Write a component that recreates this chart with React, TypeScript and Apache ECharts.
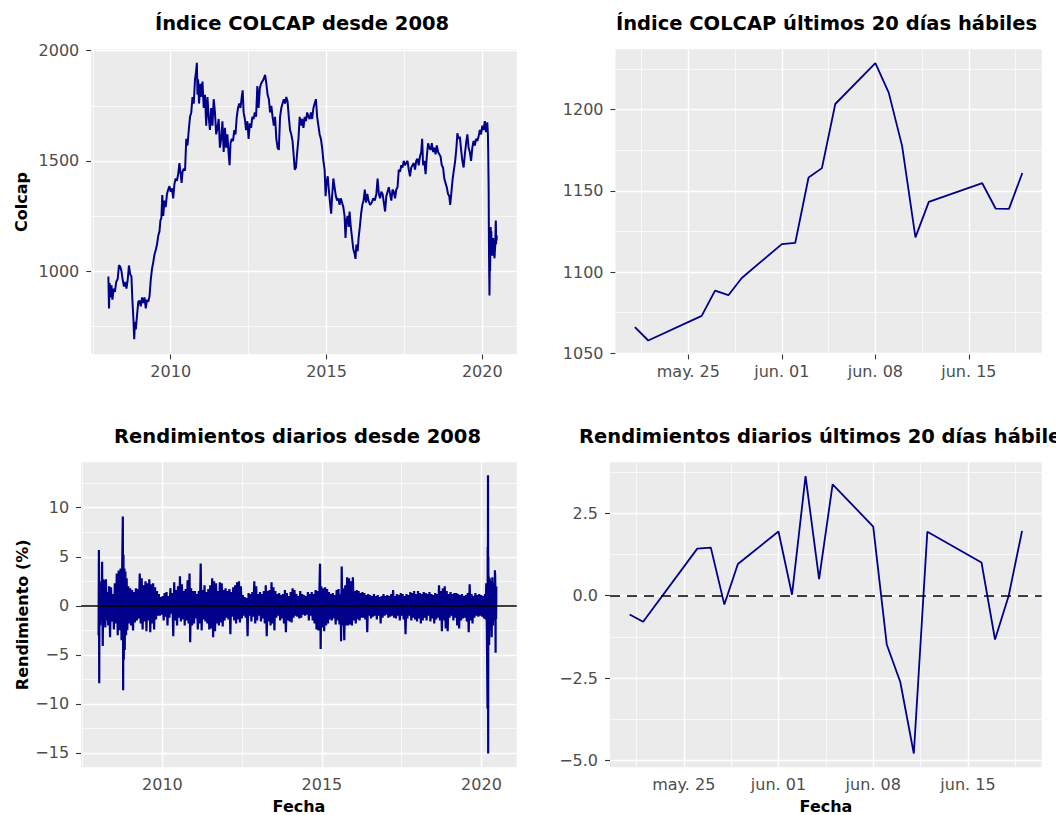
import React, { useEffect, useRef } from "react";
import * as echarts from "echarts";

const FONT = "'DejaVu Sans', sans-serif";
const LINE_COLOR = "#00008B";

// COLCAP index since 2008 (decimal year, value)
const indexHistory: [number, number][] = [
  [2008.0, 975], [2008.02, 830], [2008.04, 945], [2008.07, 880], [2008.1, 935], [2008.13, 870], [2008.17, 920],
  [2008.21, 905], [2008.25, 950], [2008.3, 965], [2008.34, 1026], [2008.38, 1020], [2008.42, 1000], [2008.46, 960],
  [2008.5, 930], [2008.54, 950], [2008.58, 920], [2008.62, 960], [2008.66, 1025], [2008.7, 985], [2008.74, 975],
  [2008.77, 870], [2008.8, 790], [2008.83, 690], [2008.85, 770], [2008.88, 735], [2008.92, 800], [2008.96, 860],
  [2009.0, 865], [2009.04, 840], [2009.08, 880], [2009.12, 855], [2009.16, 880], [2009.2, 830], [2009.24, 870],
  [2009.28, 860], [2009.32, 885], [2009.36, 960], [2009.4, 1010], [2009.44, 1040], [2009.48, 1075], [2009.52, 1095],
  [2009.56, 1120], [2009.6, 1160], [2009.64, 1180], [2009.67, 1230], [2009.7, 1240], [2009.73, 1345], [2009.76, 1250],
  [2009.8, 1320], [2009.84, 1290], [2009.88, 1350], [2009.92, 1370], [2009.96, 1385], [2010.0, 1360], [2010.04, 1375],
  [2010.08, 1330], [2010.12, 1395], [2010.16, 1420], [2010.2, 1410], [2010.24, 1440], [2010.28, 1490], [2010.32, 1440],
  [2010.35, 1400], [2010.38, 1450], [2010.42, 1465], [2010.46, 1455], [2010.5, 1600], [2010.54, 1570], [2010.58, 1640],
  [2010.62, 1700], [2010.66, 1720], [2010.7, 1790], [2010.74, 1760], [2010.78, 1870], [2010.81, 1900], [2010.84, 1945],
  [2010.86, 1800], [2010.88, 1870], [2010.91, 1760], [2010.95, 1850], [2010.98, 1790], [2011.02, 1860], [2011.06, 1740],
  [2011.1, 1800], [2011.14, 1660], [2011.18, 1790], [2011.22, 1700], [2011.26, 1640], [2011.3, 1740], [2011.34, 1660],
  [2011.38, 1780], [2011.42, 1720], [2011.46, 1620], [2011.5, 1650], [2011.54, 1690], [2011.58, 1560], [2011.62, 1600],
  [2011.66, 1680], [2011.7, 1540], [2011.74, 1650], [2011.78, 1560], [2011.82, 1620], [2011.86, 1530], [2011.89, 1480],
  [2011.92, 1580], [2011.96, 1600], [2012.0, 1590], [2012.04, 1640], [2012.08, 1620], [2012.12, 1700], [2012.16, 1740],
  [2012.2, 1760], [2012.24, 1740], [2012.28, 1790], [2012.31, 1820], [2012.34, 1720], [2012.38, 1690], [2012.42, 1640],
  [2012.46, 1680], [2012.5, 1600], [2012.54, 1670], [2012.58, 1650], [2012.62, 1700], [2012.66, 1690], [2012.7, 1720],
  [2012.74, 1700], [2012.78, 1840], [2012.82, 1740], [2012.86, 1830], [2012.9, 1850], [2012.94, 1860], [2012.98, 1870],
  [2013.03, 1890], [2013.07, 1850], [2013.11, 1800], [2013.15, 1780], [2013.19, 1720], [2013.23, 1750], [2013.27, 1700],
  [2013.31, 1660], [2013.35, 1700], [2013.39, 1600], [2013.43, 1560], [2013.47, 1550], [2013.51, 1700], [2013.55, 1740],
  [2013.59, 1760], [2013.63, 1780], [2013.67, 1760], [2013.71, 1790], [2013.75, 1770], [2013.79, 1700], [2013.83, 1640],
  [2013.87, 1620], [2013.91, 1590], [2013.95, 1520], [2013.98, 1460], [2014.02, 1470], [2014.06, 1540], [2014.1, 1600],
  [2014.14, 1700], [2014.18, 1660], [2014.22, 1690], [2014.26, 1650], [2014.3, 1700], [2014.34, 1680], [2014.38, 1720],
  [2014.42, 1700], [2014.46, 1690], [2014.5, 1720], [2014.54, 1690], [2014.58, 1740], [2014.62, 1760], [2014.66, 1780],
  [2014.7, 1700], [2014.74, 1660], [2014.78, 1620], [2014.82, 1600], [2014.86, 1560], [2014.9, 1500], [2014.94, 1460],
  [2014.97, 1340], [2015.0, 1400], [2015.04, 1430], [2015.08, 1360], [2015.12, 1300], [2015.15, 1260], [2015.18, 1340],
  [2015.22, 1420], [2015.26, 1380], [2015.3, 1340], [2015.34, 1320], [2015.38, 1330], [2015.42, 1300], [2015.46, 1330],
  [2015.5, 1310], [2015.54, 1290], [2015.58, 1250], [2015.61, 1150], [2015.64, 1230], [2015.68, 1250], [2015.71, 1200],
  [2015.74, 1270], [2015.78, 1200], [2015.82, 1150], [2015.86, 1100], [2015.9, 1080], [2015.93, 1055], [2015.96, 1120],
  [2016.0, 1090], [2016.03, 1150], [2016.07, 1200], [2016.11, 1260], [2016.15, 1300], [2016.19, 1320], [2016.23, 1370],
  [2016.27, 1310], [2016.31, 1350], [2016.35, 1320], [2016.4, 1300], [2016.45, 1310], [2016.5, 1330], [2016.55, 1320],
  [2016.6, 1350], [2016.64, 1420], [2016.68, 1350], [2016.72, 1330], [2016.76, 1360], [2016.8, 1350], [2016.84, 1310],
  [2016.88, 1270], [2016.92, 1340], [2016.96, 1360], [2017.0, 1380], [2017.04, 1350], [2017.08, 1320], [2017.12, 1370],
  [2017.16, 1360], [2017.2, 1330], [2017.24, 1370], [2017.28, 1380], [2017.32, 1460], [2017.36, 1450], [2017.4, 1480],
  [2017.44, 1470], [2017.48, 1500], [2017.52, 1480], [2017.56, 1490], [2017.6, 1500], [2017.64, 1460], [2017.68, 1430],
  [2017.72, 1470], [2017.76, 1480], [2017.8, 1490], [2017.84, 1460], [2017.88, 1500], [2017.92, 1510], [2017.96, 1480],
  [2018.0, 1520], [2018.04, 1540], [2018.07, 1600], [2018.1, 1480], [2018.14, 1500], [2018.18, 1440], [2018.22, 1520],
  [2018.26, 1580], [2018.3, 1560], [2018.34, 1550], [2018.38, 1580], [2018.42, 1540], [2018.46, 1560], [2018.5, 1530],
  [2018.54, 1570], [2018.58, 1540], [2018.62, 1530], [2018.66, 1520], [2018.7, 1480], [2018.74, 1470], [2018.78, 1420],
  [2018.82, 1400], [2018.86, 1380], [2018.9, 1350], [2018.94, 1340], [2018.97, 1300], [2019.01, 1360], [2019.05, 1420],
  [2019.09, 1460], [2019.13, 1500], [2019.17, 1560], [2019.2, 1625], [2019.24, 1600], [2019.28, 1610], [2019.32, 1550],
  [2019.36, 1500], [2019.4, 1470], [2019.44, 1530], [2019.48, 1580], [2019.52, 1620], [2019.56, 1560], [2019.6, 1540],
  [2019.64, 1500], [2019.68, 1560], [2019.72, 1590], [2019.76, 1570], [2019.8, 1600], [2019.84, 1590], [2019.88, 1610],
  [2019.92, 1640], [2019.96, 1620], [2020.0, 1660], [2020.04, 1640], [2020.08, 1680], [2020.12, 1630], [2020.16, 1675],
  [2020.18, 1620], [2020.19, 1540], [2020.2, 1420], [2020.205, 1350], [2020.21, 1200], [2020.215, 1090], [2020.22, 1010],
  [2020.225, 950], [2020.23, 889], [2020.235, 960], [2020.24, 1050], [2020.25, 1000], [2020.26, 1110], [2020.27, 1200],
  [2020.28, 1130], [2020.29, 1180], [2020.3, 1100], [2020.31, 1140], [2020.32, 1070], [2020.33, 1120], [2020.34, 1090],
  [2020.35, 1150], [2020.36, 1100], [2020.37, 1080], [2020.38, 1075],
];

// Daily returns since 2008 (decimal year, %)
const returnsHistory: [number, number][] = [
  [2008.0, -3.0], [2008.01, 5.7], [2008.02, -7.9], [2008.03, 2.5], [2008.05, -2.0], [2008.07, 1.8], [2008.09, -1.5],
  [2008.11, 4.5], [2008.13, -4.1], [2008.15, 2.7], [2008.17, -1.8], [2008.19, 2.6], [2008.21, -2.2], [2008.23, 2.7],
  [2008.25, -1.5], [2008.28, 1.4], [2008.3, -2.0], [2008.33, 2.0], [2008.36, -3.2], [2008.39, 1.9], [2008.42, -1.6],
  [2008.45, 1.2], [2008.48, -2.4], [2008.51, 2.3], [2008.54, -1.8], [2008.57, 3.3], [2008.6, -3.0], [2008.63, 3.6],
  [2008.66, -2.5], [2008.69, 3.8], [2008.72, -3.5], [2008.74, 4.0], [2008.76, 9.1], [2008.77, -8.6], [2008.78, 5.2],
  [2008.79, -5.5], [2008.81, 3.8], [2008.82, -4.5], [2008.84, 3.5], [2008.86, -3.0], [2008.88, 2.8], [2008.9, -2.5],
  [2008.93, 2.0], [2008.96, -1.8], [2008.99, 1.8], [2009.02, -2.0], [2009.05, 1.6], [2009.08, -2.5], [2009.11, 1.4],
  [2009.14, -1.7], [2009.17, 1.8], [2009.2, -1.5], [2009.23, 1.7], [2009.26, -1.3], [2009.29, 3.3], [2009.32, -1.8],
  [2009.35, 2.8], [2009.38, -2.4], [2009.41, 2.1], [2009.44, -1.6], [2009.47, 2.5], [2009.5, -2.6], [2009.53, 2.3],
  [2009.56, -1.5], [2009.59, 2.7], [2009.62, -2.7], [2009.65, 2.2], [2009.68, -1.8], [2009.71, 2.3], [2009.74, -2.4],
  [2009.77, 1.9], [2009.8, -1.4], [2009.83, 1.5], [2009.86, -1.0], [2009.89, 1.2], [2009.92, -1.0], [2009.95, 0.9],
  [2009.98, -0.9], [2010.01, 1.0], [2010.04, -1.5], [2010.07, 1.3], [2010.1, -1.1], [2010.13, 1.4], [2010.16, -2.0],
  [2010.19, 1.0], [2010.22, -1.2], [2010.25, 1.8], [2010.28, -0.8], [2010.31, 1.3], [2010.34, -3.1], [2010.37, 2.4],
  [2010.4, -1.5], [2010.43, 1.6], [2010.46, -2.0], [2010.49, 2.0], [2010.52, -1.2], [2010.55, 3.0], [2010.58, -1.6],
  [2010.61, 2.2], [2010.64, -1.4], [2010.67, 1.5], [2010.7, -2.0], [2010.73, 1.7], [2010.76, -1.5], [2010.79, 2.6],
  [2010.82, -1.8], [2010.85, 3.3], [2010.87, -3.7], [2010.9, 1.8], [2010.93, -2.0], [2010.96, 1.5], [2010.99, -1.8],
  [2011.02, 1.5], [2011.05, -1.3], [2011.08, 1.2], [2011.11, -2.4], [2011.14, 1.5], [2011.17, -1.8], [2011.2, 4.3],
  [2011.23, -2.5], [2011.26, 1.6], [2011.29, -1.4], [2011.32, 2.1], [2011.35, -1.6], [2011.38, 1.4], [2011.41, -1.8],
  [2011.44, 1.7], [2011.47, -2.4], [2011.5, 2.1], [2011.53, -2.3], [2011.56, 2.8], [2011.59, -3.2], [2011.62, 2.5],
  [2011.65, -2.6], [2011.68, 2.3], [2011.71, -1.8], [2011.74, 1.5], [2011.77, -2.0], [2011.8, 2.4], [2011.83, -1.7],
  [2011.86, 2.3], [2011.89, -2.1], [2011.92, 1.6], [2011.95, -1.5], [2011.98, 1.8], [2012.01, -1.2], [2012.04, 1.5],
  [2012.07, -1.4], [2012.1, 1.7], [2012.13, -2.9], [2012.16, 1.4], [2012.19, -1.1], [2012.22, 1.9], [2012.25, -1.5],
  [2012.28, 2.1], [2012.31, -1.8], [2012.34, 2.4], [2012.37, -1.4], [2012.4, 2.5], [2012.43, -1.7], [2012.46, 2.0],
  [2012.49, -1.3], [2012.52, 1.1], [2012.55, -1.0], [2012.58, 0.9], [2012.61, -1.2], [2012.64, 0.8], [2012.67, -3.1],
  [2012.7, 1.3], [2012.73, -1.0], [2012.76, 1.2], [2012.79, -1.6], [2012.82, 1.4], [2012.85, -1.1], [2012.88, 2.5],
  [2012.91, -1.8], [2012.94, 2.0], [2012.97, -1.5], [2013.0, 1.2], [2013.03, -1.0], [2013.06, 1.4], [2013.09, -1.6],
  [2013.12, 1.2], [2013.15, -1.3], [2013.18, 1.5], [2013.21, -1.8], [2013.24, 2.1], [2013.27, -3.1], [2013.3, 1.5],
  [2013.33, -1.6], [2013.36, 1.6], [2013.39, -2.0], [2013.42, 2.4], [2013.45, -1.8], [2013.48, 1.9], [2013.51, -2.5],
  [2013.54, 1.5], [2013.57, -1.2], [2013.6, 1.2], [2013.63, -1.0], [2013.66, 1.3], [2013.69, -1.5], [2013.72, 1.1],
  [2013.75, -1.3], [2013.78, 1.2], [2013.81, -1.8], [2013.84, 1.6], [2013.87, -2.7], [2013.9, 1.3], [2013.93, -1.5],
  [2013.96, 1.0], [2013.99, -1.6], [2014.02, 1.4], [2014.05, -1.7], [2014.08, 1.8], [2014.11, -1.2], [2014.14, 1.6],
  [2014.17, -1.0], [2014.2, 1.2], [2014.23, -1.1], [2014.26, 1.0], [2014.29, -1.3], [2014.32, 1.5], [2014.35, -1.2],
  [2014.38, 1.2], [2014.41, -0.9], [2014.44, 1.1], [2014.47, -1.0], [2014.5, 1.0], [2014.53, -0.9], [2014.56, 1.4],
  [2014.59, -1.5], [2014.62, 1.2], [2014.65, -1.0], [2014.68, 1.4], [2014.71, -1.5], [2014.74, 1.2], [2014.77, -1.8],
  [2014.8, 1.6], [2014.83, -2.4], [2014.86, 1.5], [2014.89, -2.5], [2014.92, 1.4], [2014.94, 4.3], [2014.96, -4.4],
  [2014.98, 2.0], [2015.01, -2.2], [2015.04, 1.8], [2015.07, -2.6], [2015.1, 1.9], [2015.13, -2.0], [2015.16, 1.7],
  [2015.19, -1.8], [2015.22, 1.4], [2015.25, -1.4], [2015.28, 1.2], [2015.31, -1.5], [2015.34, 1.3], [2015.37, -1.3],
  [2015.4, 1.1], [2015.43, -1.9], [2015.46, 1.6], [2015.49, -1.5], [2015.52, 1.7], [2015.55, -1.9], [2015.58, 1.2],
  [2015.6, -3.6], [2015.62, 4.0], [2015.64, -2.0], [2015.67, 1.8], [2015.7, -3.5], [2015.73, 2.1], [2015.76, -2.0],
  [2015.79, 2.9], [2015.82, -2.0], [2015.85, 2.8], [2015.88, -1.9], [2015.91, 2.5], [2015.94, -2.0], [2015.97, 2.9],
  [2016.0, -1.5], [2016.03, 1.5], [2016.06, -1.8], [2016.09, 1.6], [2016.12, -1.4], [2016.15, 1.5], [2016.18, -1.5],
  [2016.21, 1.3], [2016.24, -1.2], [2016.27, 1.4], [2016.3, -1.2], [2016.33, 1.3], [2016.36, -1.4], [2016.39, 1.1],
  [2016.42, -2.7], [2016.45, 1.2], [2016.48, -1.0], [2016.51, 1.1], [2016.54, -1.3], [2016.57, 1.0], [2016.6, -1.1],
  [2016.63, 1.2], [2016.66, -1.0], [2016.69, 1.0], [2016.72, -1.4], [2016.75, 1.1], [2016.78, -1.0], [2016.81, 0.9],
  [2016.84, -1.8], [2016.87, 1.0], [2016.9, -1.2], [2016.93, 1.2], [2016.96, -1.0], [2016.99, 1.0], [2017.02, -0.9],
  [2017.05, 1.1], [2017.08, -1.2], [2017.11, 1.0], [2017.14, -1.1], [2017.17, 1.2], [2017.2, -1.0], [2017.23, 1.6],
  [2017.26, -1.2], [2017.29, 1.0], [2017.32, -1.3], [2017.35, 1.2], [2017.38, -1.0], [2017.41, 1.1], [2017.44, -1.5],
  [2017.47, 1.3], [2017.5, -1.0], [2017.53, 1.2], [2017.56, -1.4], [2017.59, 1.0], [2017.62, -2.9], [2017.65, 1.2],
  [2017.68, -1.3], [2017.71, 1.1], [2017.74, -1.0], [2017.77, 1.4], [2017.8, -1.5], [2017.83, 1.3], [2017.86, -1.2],
  [2017.89, 1.5], [2017.92, -1.4], [2017.95, 1.2], [2017.98, -1.6], [2018.01, 1.5], [2018.04, -1.3], [2018.07, 1.3],
  [2018.1, -1.8], [2018.13, 1.2], [2018.16, -1.5], [2018.19, 1.4], [2018.22, -1.2], [2018.25, 1.3], [2018.28, -1.5],
  [2018.31, 1.2], [2018.34, -1.0], [2018.37, 1.4], [2018.4, -1.6], [2018.43, 1.2], [2018.46, -1.3], [2018.49, 1.1],
  [2018.52, -1.8], [2018.55, 1.3], [2018.58, -1.4], [2018.61, 1.2], [2018.64, -1.2], [2018.67, 2.1], [2018.7, -1.5],
  [2018.73, 1.5], [2018.76, -2.6], [2018.79, 1.8], [2018.82, -1.5], [2018.85, 2.0], [2018.88, -2.3], [2018.91, 1.5],
  [2018.94, -2.6], [2018.97, 1.2], [2019.0, -1.2], [2019.03, 1.4], [2019.06, -1.0], [2019.09, 1.2], [2019.12, -1.5],
  [2019.15, 1.3], [2019.18, -1.2], [2019.21, 1.3], [2019.24, -2.0], [2019.27, 1.2], [2019.3, -2.3], [2019.33, 1.1],
  [2019.36, -1.5], [2019.39, 1.2], [2019.42, -1.3], [2019.45, 1.0], [2019.48, -1.2], [2019.51, 1.1], [2019.54, -1.6],
  [2019.57, 1.3], [2019.6, -2.7], [2019.63, 2.2], [2019.66, -1.5], [2019.69, 1.2], [2019.72, -1.8], [2019.75, 1.0],
  [2019.78, -1.2], [2019.81, 1.3], [2019.84, -1.0], [2019.87, 1.1], [2019.9, -1.1], [2019.93, 1.2], [2019.96, -1.0],
  [2019.99, 1.1], [2020.02, -1.1], [2020.05, 1.0], [2020.08, -1.3], [2020.11, 1.2], [2020.13, -1.4], [2020.15, 2.3],
  [2020.17, -2.5], [2020.19, -10.5], [2020.195, 6.0], [2020.2, -5.5], [2020.205, 13.3], [2020.21, -15.05],
  [2020.215, 5.0], [2020.22, -4.0], [2020.23, 3.0], [2020.24, -4.0], [2020.26, 2.8], [2020.28, -2.5], [2020.3, 2.5],
  [2020.32, -3.2], [2020.34, 2.9], [2020.36, -2.0], [2020.37, 2.4], [2020.38, -1.5],
];

// Last 20 business days
const last20Dates = [
  "2020-05-21", "2020-05-22", "2020-05-26", "2020-05-27", "2020-05-28", "2020-05-29", "2020-06-01",
  "2020-06-02", "2020-06-03", "2020-06-04", "2020-06-05", "2020-06-08", "2020-06-09", "2020-06-10",
  "2020-06-11", "2020-06-12", "2020-06-16", "2020-06-17", "2020-06-18", "2020-06-19",
];
const last20Index = [
  1066, 1057.8, 1073, 1088.5, 1085.7, 1096.3, 1117.2, 1117.9, 1158.2, 1164,
  1203.5, 1228.7, 1210.5, 1177.7, 1121.3, 1143.2, 1154.7, 1139.1, 1138.9, 1161,
];
const last20Returns = [
  -0.57, -0.79, 1.43, 1.46, -0.27, 0.96, 1.95, 0.03, 3.63, 0.5,
  3.38, 2.1, -1.48, -2.62, -4.79, 1.94, 1.01, -1.33, -0.02, 1.97,
];

// Axis ticks
const yearTicks = [2010, 2015, 2020];
const yearMinor = [2007.5, 2012.5, 2017.5];
const dayTickDates = ["2020-05-25", "2020-06-01", "2020-06-08", "2020-06-15"];
const dayTickLabels = ["may. 25", "jun. 01", "jun. 08", "jun. 15"];
const dayMinorDates = ["2020-05-21T12", "2020-05-28T12", "2020-06-04T12", "2020-06-11T12", "2020-06-18T12"];
const indexTicks = [1000, 1500, 2000];
const indexMinor = [750, 1250, 1750];
const last20IndexTicks = [1050, 1100, 1150, 1200];
const last20IndexMinor = [1075, 1125, 1175, 1225];
const returnsTicks = [-15, -10, -5, 0, 5, 10];
const returnsMinor = [-12.5, -7.5, -2.5, 2.5, 7.5, 12.5];
const last20ReturnsTicks = [-5, -2.5, 0, 2.5];
const last20ReturnsMinor = [-3.75, -1.25, 1.25, 3.75];

function parseUTC(iso: string): number {
  const [datePart, hourPart] = iso.split("T");
  const [y, m, d] = datePart.split("-").map(Number);
  return Date.UTC(y, m - 1, d, hourPart ? Number(hourPart) : 0);
}
// days counted from April 30th, 2020 (May 1 = 1)
function dayNum(iso: string): number {
  return (parseUTC(iso) - Date.UTC(2020, 4, 0)) / 86400000;
}
function decYear(iso: string): number {
  const y = Number(iso.slice(0, 4));
  const start = Date.UTC(y, 0, 1);
  return y + (parseUTC(iso) - start) / (Date.UTC(y + 1, 0, 1) - start);
}
const minus = (s: string) => s.replace("-", "\u2212");

function makeAxis(gridIndex: number, min: number, max: number, ticks: number[], fmt: (v: number) => string, margin: number) {
  return {
    type: "value",
    gridIndex,
    min,
    max,
    axisLine: { show: false },
    axisTick: { show: true, length: 5, customValues: ticks, lineStyle: { color: "#333333", width: 1.1 } },
    axisLabel: { show: true, customValues: ticks, formatter: fmt, color: "#4D4D4D", fontFamily: FONT, fontSize: 16, margin },
    splitLine: { show: false },
    minorSplitLine: { show: false },
  };
}

function gridLines(i: number, xMaj: number[], xMin: number[], yMaj: number[], yMin: number[]) {
  const maj = { color: "#FFFFFF", width: 1.4, type: "solid" };
  const mnr = { color: "#FFFFFF", width: 0.7, type: "solid" };
  return {
    type: "line",
    xAxisIndex: i,
    yAxisIndex: i,
    data: [],
    z: 1,
    silent: true,
    markLine: {
      z: 1,
      silent: true,
      symbol: ["none", "none"],
      label: { show: false },
      lineStyle: { type: "solid" },
      data: [
        ...xMin.map((v) => ({ xAxis: v, lineStyle: mnr })),
        ...yMin.map((v) => ({ yAxis: v, lineStyle: mnr })),
        ...xMaj.map((v) => ({ xAxis: v, lineStyle: maj })),
        ...yMaj.map((v) => ({ yAxis: v, lineStyle: maj })),
      ],
    },
  };
}

function label(x: number, y: number, text: string, font: string, rotation = 0) {
  return {
    type: "text",
    x,
    y,
    rotation,
    silent: true,
    style: { text, fill: "#000000", font, textAlign: "center", textVerticalAlign: "middle" },
  };
}

export default function App() {
  const ref = useRef<HTMLDivElement>(null);

  useEffect(() => {
    document.body.style.margin = "0";
    if (!ref.current) return;
    const chart = echarts.init(ref.current, undefined, { renderer: "svg" });

    const indexAll = indexHistory.concat(last20Dates.map((d, i) => [decYear(d), last20Index[i]] as [number, number]));
    const returnsAll = returnsHistory.concat(last20Dates.map((d, i) => [decYear(d), last20Returns[i]] as [number, number]));
    const index20 = last20Dates.map((d, i) => [dayNum(d), last20Index[i]]);
    const returns20 = last20Dates.map((d, i) => [dayNum(d), last20Returns[i]]);
    const dayTicks = dayTickDates.map(dayNum);
    const dayMinor = dayMinorDates.map(dayNum);
    const dayFmt = (v: number) => {
      const k = dayTicks.findIndex((t) => Math.abs(t - v) < 1e-6);
      return k >= 0 ? dayTickLabels[k] : "";
    };
    const yearFmt = (v: number) => String(Math.round(v));
    const intFmt = (v: number) => minus(String(v));
    const decFmt = (v: number) => minus(v.toFixed(1));

    const titleFont = `bold 19.5px ${FONT}`;
    const axisFont = `bold 16px ${FONT}`;

    chart.setOption({
      animation: false,
      backgroundColor: "#FFFFFF",
      grid: [
        { left: 91.3, top: 49.3, width: 425.4, height: 305, show: true, backgroundColor: "#EBEBEB", borderWidth: 0 },
        { left: 615.5, top: 49.3, width: 426.2, height: 305, show: true, backgroundColor: "#EBEBEB", borderWidth: 0 },
        { left: 81.1, top: 462.3, width: 435.6, height: 305, show: true, backgroundColor: "#EBEBEB", borderWidth: 0 },
        { left: 610, top: 462.3, width: 431.7, height: 305, show: true, backgroundColor: "#EBEBEB", borderWidth: 0 },
      ],
      xAxis: [
        makeAxis(0, 2007.452, 2021.104, yearTicks, yearFmt, 9),
        makeAxis(1, 19.55, 51.45, dayTicks, dayFmt, 9),
        makeAxis(2, 2007.452, 2021.104, yearTicks, yearFmt, 9),
        makeAxis(3, 19.55, 51.45, dayTicks, dayFmt, 9),
      ],
      yAxis: [
        makeAxis(0, 622, 2006.4, indexTicks, intFmt, 12),
        makeAxis(1, 1049.3, 1237.2, last20IndexTicks, intFmt, 12),
        makeAxis(2, -16.46, 14.63, returnsTicks, intFmt, 12),
        makeAxis(3, -5.21, 4.05, last20ReturnsTicks, decFmt, 12),
      ],
      series: [
        gridLines(0, yearTicks, yearMinor, indexTicks, indexMinor),
        gridLines(1, dayTicks, dayMinor, last20IndexTicks, last20IndexMinor),
        gridLines(2, yearTicks, yearMinor, returnsTicks, returnsMinor),
        gridLines(3, dayTicks, dayMinor, last20ReturnsTicks, last20ReturnsMinor),
        {
          type: "line", xAxisIndex: 0, yAxisIndex: 0, data: indexAll, symbol: "none", showSymbol: false, z: 3,
          lineStyle: { color: LINE_COLOR, width: 2 },
        },
        {
          type: "line", xAxisIndex: 1, yAxisIndex: 1, data: index20, symbol: "none", showSymbol: false, z: 3,
          lineStyle: { color: LINE_COLOR, width: 1.8 },
        },
        {
          type: "line", xAxisIndex: 2, yAxisIndex: 2, data: returnsAll, symbol: "none", showSymbol: false, z: 3,
          lineStyle: { color: LINE_COLOR, width: 2.2 },
        },
        {
          type: "line", xAxisIndex: 3, yAxisIndex: 3, data: returns20, symbol: "none", showSymbol: false, z: 3,
          lineStyle: { color: LINE_COLOR, width: 1.8 },
        },
        {
          type: "line", xAxisIndex: 2, yAxisIndex: 2, data: [], z: 6, silent: true,
          markLine: {
            z: 6, silent: true, symbol: ["none", "none"], label: { show: false },
            lineStyle: { color: "#000000", width: 1.5, type: "solid" },
            data: [{ yAxis: 0 }],
          },
        },
        {
          type: "line", xAxisIndex: 3, yAxisIndex: 3, data: [], z: 6, silent: true,
          markLine: {
            z: 6, silent: true, symbol: ["none", "none"], label: { show: false },
            lineStyle: { color: "#000000", width: 1.5, type: [10, 7] },
            data: [{ yAxis: 0 }],
          },
        },
      ],
      graphic: [
        label(302, 23.7, "Índice COLCAP desde 2008", titleFont),
        label(826.5, 23.7, "Índice COLCAP últimos 20 días hábiles", titleFont),
        label(297.5, 436, "Rendimientos diarios desde 2008", titleFont),
        label(826, 436, "Rendimientos diarios últimos 20 días hábiles", titleFont),
        label(21.5, 202, "Colcap", axisFont, Math.PI / 2),
        label(22, 614.8, "Rendimiento (%)", axisFont, Math.PI / 2),
        label(299, 806, "Fecha", axisFont),
        label(826, 806, "Fecha", axisFont),
      ],
    });

    return () => chart.dispose();
  }, []);

  return <div ref={ref} style={{ width: 1056, height: 815 }} />;
}
